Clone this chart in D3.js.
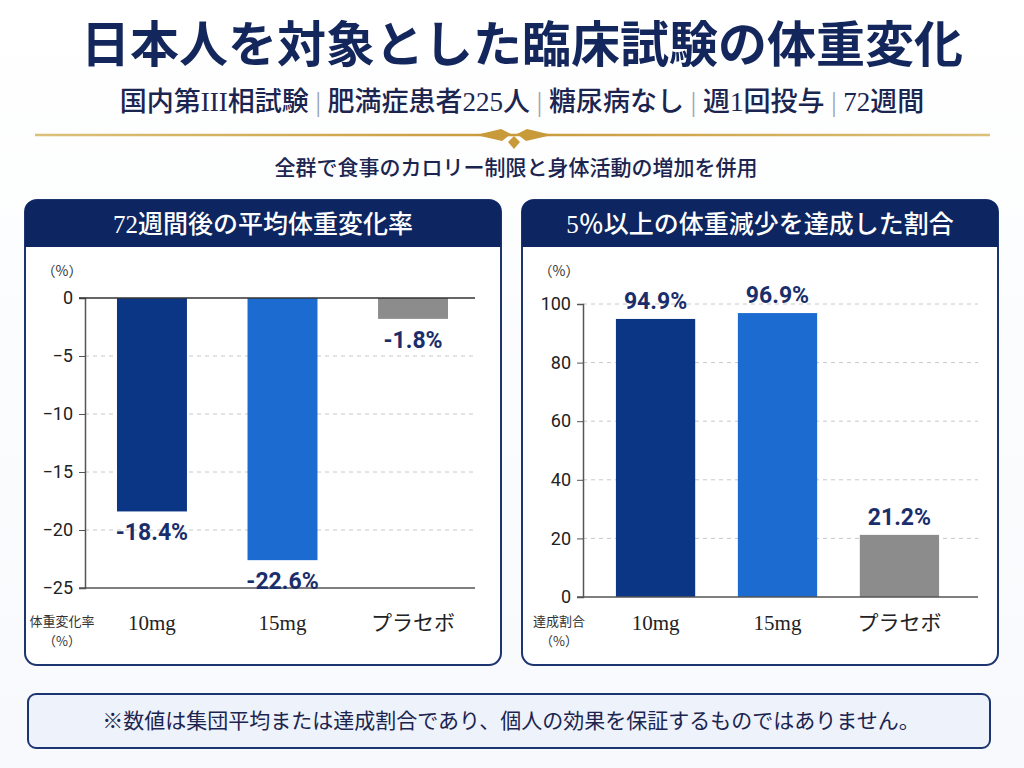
<!DOCTYPE html>
<html>
<head>
<meta charset="utf-8">
<script src="https://cdn.jsdelivr.net/npm/d3@7"></script>
<style>
  body { margin: 0; background: #fff; }
  svg { display: block; }
</style>
</head>
<body>
<div id="chart"></div>
<script>
// data
const groups = ["10mg", "15mg", "プラセボ"];
const changeVals = [-18.4, -22.6, -1.8];
const reachVals = [94.9, 96.9, 21.2];
const changeTicks = [0, -5, -10, -15, -20, -25];
const reachTicks = [0, 20, 40, 60, 80, 100];
const subParts = ["国内第III相試験", "肥満症患者225人", "糖尿病なし", "週1回投与", "72週間"];

const W = 1024, H = 768;
const navy = "#0d2560";
const textNavy = "#1a2e6c";
const barColors = ["#0b3585", "#1b6bd0", "#8c8c8c"];
const sans = "'Noto Sans CJK JP', 'Noto Sans', sans-serif";
const serif = "'Liberation Serif', 'DejaVu Serif', 'Noto Sans CJK JP', serif";
const numFont = "Roboto, 'Liberation Sans', sans-serif";

const svg = d3.select("#chart").append("svg")
  .attr("width", W).attr("height", H);

const defs = svg.append("defs");
const bg = defs.append("linearGradient").attr("id", "bg").attr("x1", 0).attr("y1", 0).attr("x2", 0).attr("y2", 1);
bg.append("stop").attr("offset", "0%").attr("stop-color", "#ffffff");
bg.append("stop").attr("offset", "100%").attr("stop-color", "#f7f9fc");
const gold = defs.append("linearGradient").attr("id", "gold")
  .attr("gradientUnits", "userSpaceOnUse")
  .attr("x1", 35).attr("y1", 0).attr("x2", 990).attr("y2", 0);
gold.append("stop").attr("offset", "0%").attr("stop-color", "#dcc07a");
gold.append("stop").attr("offset", "50%").attr("stop-color", "#c99a3a");
gold.append("stop").attr("offset", "100%").attr("stop-color", "#dcc07a");

svg.append("rect").attr("width", W).attr("height", H).attr("fill", "url(#bg)");

// title
svg.append("text")
  .attr("x", 522).attr("y", 62)
  .attr("text-anchor", "middle")
  .attr("font-family", serif).attr("font-weight", 700)
  .attr("font-size", 49).attr("fill", "#14275c")
  .text("日本人を対象とした臨床試験の体重変化");

// subtitle with separators
const sub = svg.append("text")
  .attr("x", 522).attr("y", 111)
  .attr("text-anchor", "middle")
  .attr("font-family", serif).attr("font-weight", 500)
  .attr("font-size", 27).attr("fill", "#1b2550");
subParts.forEach(function(p, i){
  if (i > 0) sub.append("tspan").attr("fill", "#9aa0b0").attr("font-weight", 300).text(" | ");
  sub.append("tspan").text(p);
});

// gold divider
svg.append("line").attr("x1", 35).attr("x2", 990).attr("y1", 135).attr("y2", 135)
  .attr("stroke", "url(#gold)").attr("stroke-width", 2.5);
svg.append("path").attr("d", "M476,135 L501,129 L511,134 L502,141 Z").attr("fill", "#c99a3a");
svg.append("path").attr("d", "M552,135 L527,129 L517,134 L526,141 Z").attr("fill", "#c99a3a");
svg.append("path").attr("d", "M514,136 L520,142 L514,149 L508,142 Z").attr("fill", "#c99a3a");

svg.append("text")
  .attr("x", 516).attr("y", 175)
  .attr("text-anchor", "middle")
  .attr("font-family", sans).attr("font-weight", 500)
  .attr("font-size", 21).attr("fill", "#1b2550")
  .text("全群で食事のカロリー制限と身体活動の増加を併用");

// panel frame
function panel(x, title, axisNote) {
  const g = svg.append("g");
  g.append("rect").attr("x", x).attr("y", 200).attr("width", 476).attr("height", 465)
    .attr("rx", 12).attr("fill", "#fff").attr("stroke", "#1c3470").attr("stroke-width", 2);
  g.append("path")
    .attr("d", `M${x},247 L${x},212 Q${x},200 ${x+12},200 L${x+464},200 Q${x+476},200 ${x+476},212 L${x+476},247 Z`)
    .attr("fill", navy);
  g.append("text").attr("x", x + 238).attr("y", 233)
    .attr("text-anchor", "middle").attr("font-family", serif).attr("font-weight", 500)
    .attr("font-size", 25).attr("fill", "#fff").text(title);
  g.append("text").attr("x", x + 37).attr("y", 276).attr("text-anchor", "middle")
    .attr("font-family", sans).attr("font-size", 14).attr("fill", "#333").text("（%）");
  g.append("text").attr("x", x + 37).attr("y", 626).attr("text-anchor", "middle")
    .attr("font-family", sans).attr("font-size", 13).attr("fill", "#333").text(axisNote);
  g.append("text").attr("x", x + 37).attr("y", 646).attr("text-anchor", "middle")
    .attr("font-family", sans).attr("font-size", 13).attr("fill", "#333").text("（%）");
  return g;
}

function barChart(g, cfg) {
  const x = d3.scaleBand().domain(groups).range([cfg.left, cfg.bandRight])
    .paddingInner(cfg.pi).paddingOuter(cfg.po);
  const y = d3.scaleLinear().domain(cfg.domain).range([cfg.top, cfg.bottom]);

  // dashed grid
  g.selectAll(".grid").data(cfg.ticks.filter(t => t !== cfg.base && t !== cfg.axisAt))
    .enter().append("line")
    .attr("x1", cfg.left).attr("x2", cfg.right)
    .attr("y1", d => y(d)).attr("y2", d => y(d))
    .attr("stroke", "#c8c8c8").attr("stroke-dasharray", "4,4").attr("stroke-width", 1);

  g.selectAll(".bar").data(cfg.values).enter().append("rect")
    .attr("x", (d, i) => x(groups[i]))
    .attr("width", x.bandwidth())
    .attr("y", d => Math.min(y(d), y(cfg.base)))
    .attr("height", d => Math.abs(y(d) - y(cfg.base)))
    .attr("fill", (d, i) => barColors[i]);

  const axis = g.append("g").attr("transform", `translate(${cfg.left},0)`)
    .call(d3.axisLeft(y).tickValues(cfg.ticks).tickSize(6).tickPadding(6).tickFormat(d3.format("d")));
  axis.select(".domain").attr("stroke", "#555").attr("stroke-width", 1.5);
  axis.selectAll(".tick line").attr("stroke", "#555");
  axis.selectAll("text").attr("font-family", numFont).attr("font-size", 18).attr("fill", "#222");

  g.append("line").attr("x1", cfg.left - 6).attr("x2", cfg.right)
    .attr("y1", y(cfg.axisAt)).attr("y2", y(cfg.axisAt))
    .attr("stroke", "#555").attr("stroke-width", 1.5);
  if (cfg.base !== cfg.axisAt) {
    g.append("line").attr("x1", cfg.left - 6).attr("x2", cfg.right)
      .attr("y1", y(cfg.base)).attr("y2", y(cfg.base))
      .attr("stroke", "#333").attr("stroke-width", 1.5);
  }

  g.selectAll(".val").data(cfg.values).enter().append("text")
    .attr("x", (d, i) => x(groups[i]) + x.bandwidth() / 2)
    .attr("y", d => cfg.labelBelow ? y(d) + 29 : y(d) - 10)
    .attr("text-anchor", "middle")
    .attr("font-family", numFont).attr("font-weight", 700)
    .attr("font-size", 23).attr("fill", textNavy)
    .text(d => d.toFixed(1) + "%");

  g.selectAll(".cat").data(groups).enter().append("text")
    .attr("x", d => x(d) + x.bandwidth() / 2)
    .attr("y", 630)
    .attr("text-anchor", "middle")
    .attr("font-family", serif).attr("font-size", 21).attr("fill", "#222")
    .text(d => d);
}

const left = panel(25, "72週間後の平均体重変化率", "体重変化率");
barChart(left, {
  left: 85, right: 475, bandRight: 480, top: 298, bottom: 588,
  domain: [0, -25], ticks: changeTicks, values: changeVals,
  base: 0, axisAt: -25, pi: 0.464, po: 0.245, labelBelow: true
});

const right = panel(522, "5％以上の体重減少を達成した割合", "達成割合");
barChart(right, {
  left: 583, right: 978, bandRight: 972, top: 304, bottom: 597,
  domain: [100, 0], ticks: reachTicks, values: reachVals,
  base: 0, axisAt: 0, pi: 0.35, po: 0.27, labelBelow: false
});

// footnote box
svg.append("rect").attr("x", 28).attr("y", 694).attr("width", 962).attr("height", 54)
  .attr("rx", 8).attr("fill", "#eef2fa").attr("stroke", "#1c3470").attr("stroke-width", 2);
svg.append("text").attr("x", 511).attr("y", 728).attr("text-anchor", "middle")
  .attr("font-family", sans).attr("font-size", 21).attr("fill", "#1b2550")
  .text("※数値は集団平均または達成割合であり、個人の効果を保証するものではありません。");
</script>
</body>
</html>
